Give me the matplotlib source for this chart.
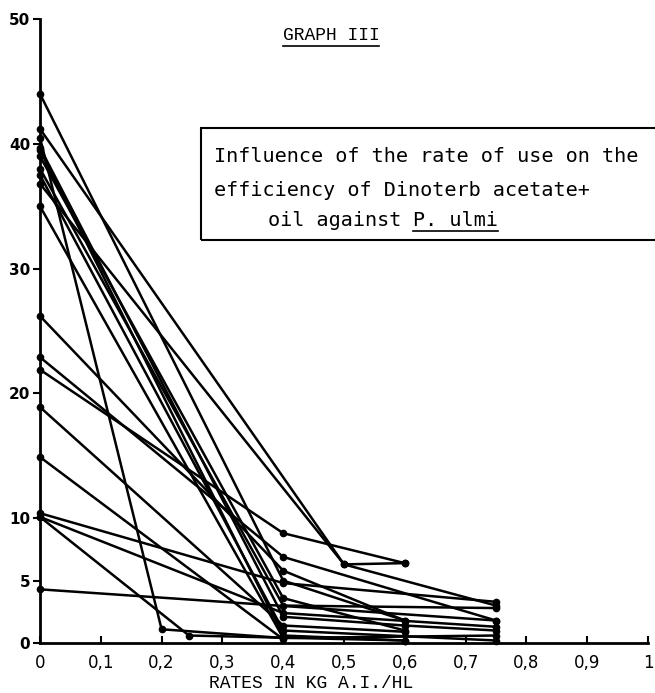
import matplotlib
matplotlib.use("Agg")
import matplotlib.pyplot as plt
from matplotlib.lines import Line2D
from matplotlib.patches import Rectangle

# ---- data ----
series_x = [
    [0, 0.4, 0.6],
    [0, 0.5, 0.75],
    [0, 0.2, 0.4],
    [0, 0.4, 0.6, 0.75],
    [0, 0.4, 0.6],
    [0, 0.4, 0.75],
    [0, 0.4, 0.75],
    [0, 0.4, 0.75],
    [0, 0.4, 0.6],
    [0, 0.4, 0.75],
    [0, 0.4, 0.6],
    [0, 0.4, 0.6],
    [0, 0.4],
    [0, 0.4, 0.75],
    [0, 0.245, 0.6],
    [0, 0.4, 0.75],
    [0, 0.75],
    [0, 0.5, 0.6],
    [0, 0.4, 0.6],
]
series_y = [
    [44.0, 5.0, 1.8],
    [41.2, 6.3, 3.0],
    [40.5, 1.1, 0.4],
    [39.7, 2.1, 1.4, 1.0],
    [39.5, 0.6, 0.2],
    [38.0, 3.0, 2.8],
    [37.5, 1.0, 0.2],
    [35.0, 0.4, 0.6],
    [26.2, 5.8, 1.8],
    [22.9, 6.9, 1.8],
    [21.9, 8.8, 6.4],
    [18.9, 1.4, 0.9],
    [14.9, 0.3],
    [10.4, 4.8, 3.3],
    [10.1, 0.6, 0.2],
    [10.1, 2.4, 1.3],
    [4.3, 1.8],
    [36.8, 6.3, 6.4],
    [39.0, 3.6, 1.0],
]
y_ticks = [0, 5, 10, 20, 30, 40, 50]
x_ticks = [0, 0.1, 0.2, 0.3, 0.4, 0.5, 0.6, 0.7, 0.8, 0.9, 1.0]
x_ticklabels = ["0", "0,1", "0,2", "0,3", "0,4", "0,5", "0,6", "0,7", "0,8", "0,9", "1"]
title_text = "GRAPH III"
xlabel_text = "RATES IN KG A.I./HL"
box_lines = ["Influence of the rate of use on the",
             "efficiency of Dinoterb acetate+",
             "oil against "]
box_under = "P. ulmi"

W, H = 655, 693
fig = plt.figure(figsize=(W / 100, H / 100), dpi=100)
fig.patch.set_facecolor("white")
ax = fig.add_axes([40 / W, 1 - 643 / H, (648 - 40) / W, (643 - 19) / H])
ax.set_xlim(0, 1)
ax.set_ylim(0, 50)

for xs, ys in zip(series_x, series_y):
    ax.plot(xs, ys, color="black", lw=1.8, marker="o", ms=4.5,
            solid_capstyle="round", clip_on=False, zorder=3)

for s in ["top", "right"]:
    ax.spines[s].set_visible(False)
for s in ["left", "bottom"]:
    ax.spines[s].set_linewidth(2.0)
    ax.spines[s].set_color("black")

ax.set_yticks(y_ticks)
ax.set_yticklabels([str(v) for v in y_ticks], fontsize=11, fontweight="bold")
ax.tick_params(axis="y", direction="out", length=5, width=1.5, pad=2)
ax.set_xticks(x_ticks)
ax.set_xticklabels(x_ticklabels, fontsize=12)
ax.tick_params(axis="x", direction="in", length=5, width=1.5, pad=8)

# x label (typewriter)
fig.text(311 / W, 1 - 683 / H, xlabel_text, family="Liberation Mono",
         fontsize=13, ha="center", va="center")

# title
t = fig.text(331 / W, 1 - 35 / H, title_text, family="Liberation Mono",
             fontsize=13, ha="center", va="center")

# text box
rect = Rectangle((201 / W, 1 - 240 / H), (660 - 201) / W, (240 - 128) / H,
                 transform=fig.transFigure, fill=False, lw=1.5, ec="black",
                 clip_on=False)
fig.add_artist(rect)
bfont = dict(family="DejaVu Sans Mono", fontsize=14.5, va="center", ha="left")
fig.text(214 / W, 1 - 157 / H, box_lines[0], **bfont)
fig.text(214 / W, 1 - 190 / H, box_lines[1], **bfont)
t3 = fig.text(268 / W, 1 - 220 / H, box_lines[2], **bfont)

fig.canvas.draw()
r = fig.canvas.get_renderer()
bb3 = t3.get_window_extent(r)
t4 = fig.text(bb3.x1 / W, 1 - 220 / H, box_under, **bfont)
fig.canvas.draw()
bb4 = t4.get_window_extent(r)
bbt = t.get_window_extent(r)
fig.add_artist(Line2D([bb4.x0 / W, bb4.x1 / W], [(bb4.y0 - 1) / H] * 2,
                      transform=fig.transFigure, color="black", lw=1.2))
fig.add_artist(Line2D([bbt.x0 / W, bbt.x1 / W], [(bbt.y0 - 2) / H] * 2,
                      transform=fig.transFigure, color="black", lw=1.2))

fig.savefig("out.png", dpi=100, facecolor="white")
